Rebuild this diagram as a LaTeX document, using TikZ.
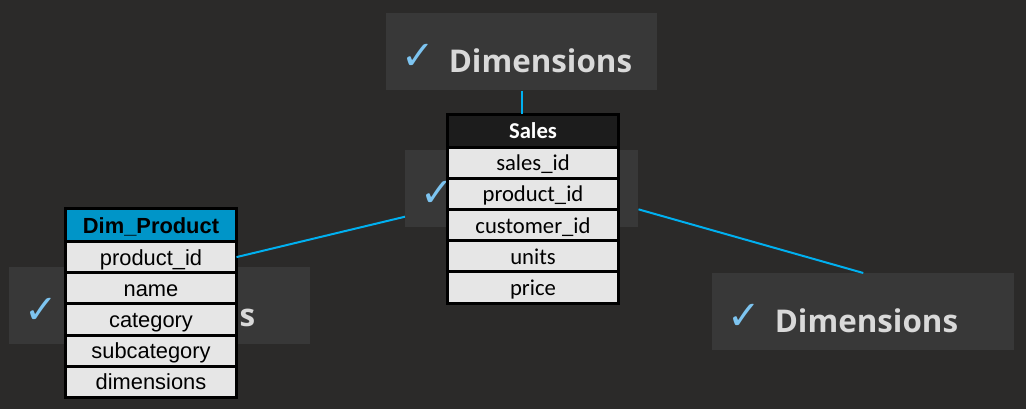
\documentclass[tikz,border=0pt]{standalone}
\usepackage{fontspec}
\setmainfont{Open Sans}
\newfontfamily\symfont{DejaVu Sans}
\newfontfamily\salesfont{Carlito}
\newfontfamily\prodfont{Liberation Sans}
\usetikzlibrary{positioning}

\definecolor{bgdark}{RGB}{43,42,41}
\definecolor{boxgray}{RGB}{56,56,56}
\definecolor{dimtext}{RGB}{217,217,217}
\definecolor{chkblue}{RGB}{125,196,240}
\definecolor{linkblue}{RGB}{0,176,240}
\definecolor{rowgray}{RGB}{230,230,230}
\definecolor{headdark}{RGB}{28,28,28}
\definecolor{headblue}{RGB}{0,149,200}

\newcommand{\chk}{\raisebox{2pt}{\textcolor{chkblue}{\symfont\fontsize{30}{30}\selectfont ✓}}\hspace{10.5pt}}

\tikzset{
  dimbox/.style={fill=boxgray, anchor=north west, minimum height=57.75pt,
    inner xsep=11.25pt, inner ysep=0pt, text width=#1, align=left,
    text height=30.75pt, text depth=0pt,
    text=dimtext, font=\fontsize{23.5}{28}\selectfont\bfseries},
  salesrow/.style={draw=black, line width=2.25pt, fill=rowgray,
    minimum width=128.25pt, minimum height=23.4pt, inner sep=0pt, outer sep=0pt,
    text height=14pt, text depth=2pt, text=black,
    font=\salesfont\fontsize{17}{20}\selectfont},
  saleshead/.style={salesrow, fill=headdark, text=white, minimum height=24.4pt,
    font=\salesfont\fontsize{17}{20}\selectfont\bfseries},
  prodrow/.style={salesrow, font=\prodfont\fontsize{16.4}{19}\selectfont},
  prodhead/.style={prodrow, fill=headblue, minimum height=24.4pt,
    font=\prodfont\fontsize{16.4}{19}\selectfont\bfseries},
  link/.style={draw=linkblue, line width=1.5pt}
}

\begin{document}
\begin{tikzpicture}[x=0.75pt,y=-0.75pt]
  \useasboundingbox (0,0) rectangle (1026,409);
  \fill[bgdark] (0,0) rectangle (1026,409);

  % dimension boxes
  \node[dimbox=180.75pt] (dtop) at (386,13) {\chk Dimensions};
  \node[dimbox=152.25pt] (dmid) at (405,150) {\chk};
  \node[dimbox=203.25pt] (dleft) at (9,267) {\chk Dimensions};
  \node[dimbox=204pt] (dright) at (712,273) {\chk Dimensions};

  % fact table
  \node[saleshead] (shead) at (533,130.75) {Sales};
  \node[salesrow, below=0pt of shead] (s1) {sales\_id};
  \node[salesrow, below=0pt of s1] (s2) {product\_id};
  \node[salesrow, below=0pt of s2] (s3) {customer\_id};
  \node[salesrow, below=0pt of s3] (s4) {units};
  \node[salesrow, below=0pt of s4] (s5) {price};

  % dimension table
  \node[prodhead] (phead) at (151,225.25) {Dim\_Product};
  \node[prodrow, below=0pt of phead] (p1) {product\_id};
  \node[prodrow, below=0pt of p1] (p2) {name};
  \node[prodrow, below=0pt of p2] (p3) {category};
  \node[prodrow, below=0pt of p3] (p4) {subcategory};
  \node[prodrow, below=0pt of p4] (p5) {dimensions};

  % links
  \draw[link] (dtop.south) -- (dtop.south |- shead.north);
  \draw[link] (p1.east) -- (dmid);
  \draw[link] (dright.north) -- (dmid.-10.5);
\end{tikzpicture}
\end{document}
